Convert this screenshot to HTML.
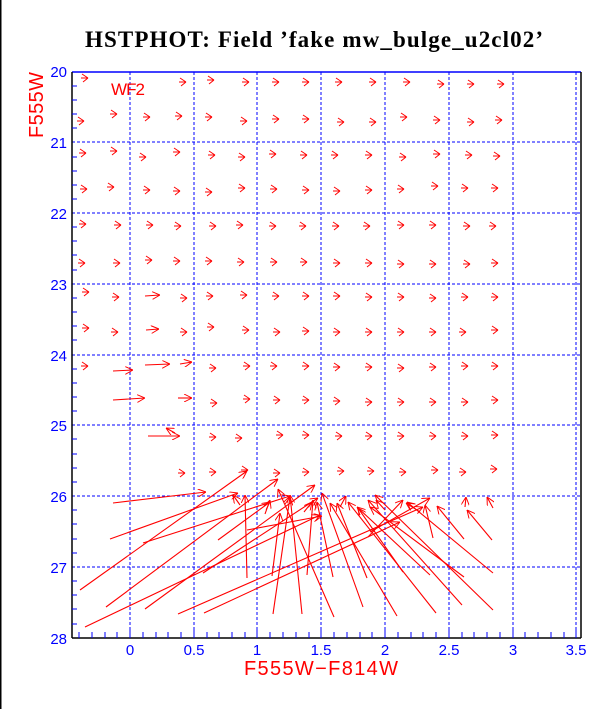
<!DOCTYPE html>
<html><head><meta charset="utf-8"><style>
html,body{margin:0;padding:0;background:#fff}
svg{display:block}
</style></head><body>
<svg width="612" height="709" viewBox="0 0 612 709" xmlns="http://www.w3.org/2000/svg">
<defs>
<g id="a" stroke="#f00" stroke-width="1" fill="none"><path d="M-3,0 H4 M4,0 L-2,-4 M4,0 L-1,4"/></g>
<marker id="h" viewBox="0 0 10 10" refX="10" refY="5" markerWidth="8" markerHeight="8" orient="auto" markerUnits="userSpaceOnUse"><path d="M0,0 L10,5 L0,10" fill="none" stroke="#f00" stroke-width="1.2"/></marker>
</defs>
<rect x="0" y="0" width="612" height="709" fill="#fff"/>
<line x1="0.5" y1="0" x2="0.5" y2="709" stroke="#000" stroke-width="2"/>
<text x="314" y="47" font-family="Liberation Serif, serif" font-weight="bold" font-size="23" text-anchor="middle" textLength="458">HSTPHOT: Field ’fake mw_bulge_u2cl02’</text>
<g stroke="#00f" stroke-width="1" stroke-dasharray="3,2">
<line x1="130" y1="72" x2="130" y2="638"/><line x1="194" y1="72" x2="194" y2="638"/>
<line x1="257" y1="72" x2="257" y2="638"/><line x1="321" y1="72" x2="321" y2="638"/>
<line x1="385" y1="72" x2="385" y2="638"/><line x1="449" y1="72" x2="449" y2="638"/>
<line x1="513" y1="72" x2="513" y2="638"/><line x1="576" y1="72" x2="576" y2="638"/>
<line x1="72" y1="142" x2="581" y2="142"/><line x1="72" y1="213" x2="581" y2="213"/>
<line x1="72" y1="284" x2="581" y2="284"/><line x1="72" y1="355" x2="581" y2="355"/>
<line x1="72" y1="425" x2="581" y2="425"/><line x1="72" y1="496" x2="581" y2="496"/>
<line x1="72" y1="567" x2="581" y2="567"/>
</g>
<line x1="72" y1="72" x2="581" y2="72" stroke="#00f" stroke-width="1.5"/>
<line x1="72" y1="72" x2="72" y2="638" stroke="#000" stroke-width="1.5"/>
<line x1="72" y1="638" x2="581" y2="638" stroke="#000" stroke-width="1.5"/>
<line x1="581" y1="72" x2="581" y2="638" stroke="#000" stroke-width="1.5"/>
<g stroke="#00f" stroke-width="1">
<path d="M72,86h5M72,100h5M72,114h5M72,128h5M72,157h5M72,171h5M72,185h5M72,199h5M72,227h5M72,241h5M72,255h5M72,270h5M72,298h5M72,312h5M72,326h5M72,340h5M72,369h5M72,383h5M72,397h5M72,411h5M72,439h5M72,454h5M72,468h5M72,482h5M72,510h5M72,524h5M72,539h5M72,553h5M72,581h5M72,595h5M72,609h5M72,624h5"/>
<path d="M79,638v-6M92,638v-6M105,638v-6M117,638v-6M143,638v-6M156,638v-6M168,638v-6M181,638v-6M207,638v-6M219,638v-6M232,638v-6M245,638v-6M270,638v-6M283,638v-6M296,638v-6M309,638v-6M334,638v-6M347,638v-6M360,638v-6M372,638v-6M398,638v-6M411,638v-6M423,638v-6M436,638v-6M462,638v-6M474,638v-6M487,638v-6M500,638v-6M525,638v-6M538,638v-6M551,638v-6M564,638v-6"/>
<path d="M130,638v-10M194,638v-10M257,638v-10M321,638v-10M385,638v-10M449,638v-10M513,638v-10M576,638v-10"/>
</g>
<g font-family="Liberation Sans, sans-serif" font-size="15" fill="#00f">
<g text-anchor="end"><text x="67" y="77">20</text><text x="67" y="148">21</text><text x="67" y="219">22</text><text x="67" y="290">23</text><text x="67" y="361">24</text><text x="67" y="431">25</text><text x="67" y="502">26</text><text x="67" y="573">27</text><text x="67" y="644">28</text></g>
<g text-anchor="middle"><text x="130" y="655">0</text><text x="194" y="655">0.5</text><text x="257" y="655">1</text><text x="321" y="655">1.5</text><text x="385" y="655">2</text><text x="449" y="655">2.5</text><text x="513" y="655">3</text><text x="576" y="655">3.5</text></g>
</g>
<text x="321" y="675" font-family="Liberation Sans, sans-serif" font-size="20" fill="#f00" text-anchor="middle" textLength="154">F555W−F814W</text>
<text transform="translate(43,105) rotate(-90)" font-family="Liberation Sans, sans-serif" font-size="20" fill="#f00" text-anchor="middle" textLength="66">F555W</text>
<text x="111" y="95" font-family="Liberation Sans, sans-serif" font-size="17" fill="#f00" textLength="34">WF2</text>
<g>
<use href="#a" x="84" y="78"/><use href="#a" x="182" y="82"/><use href="#a" x="210" y="80"/><use href="#a" x="245" y="82"/><use href="#a" x="275" y="82"/><use href="#a" x="305" y="82"/><use href="#a" x="338" y="82"/><use href="#a" x="372" y="82"/><use href="#a" x="406" y="82"/><use href="#a" x="440" y="84"/><use href="#a" x="470" y="84"/><use href="#a" x="500" y="84"/>
<use href="#a" x="80" y="121"/><use href="#a" x="113" y="114"/><use href="#a" x="146" y="117"/><use href="#a" x="178" y="116"/><use href="#a" x="208" y="117"/><use href="#a" x="243" y="121"/><use href="#a" x="275" y="119"/><use href="#a" x="305" y="119"/><use href="#a" x="340" y="122"/><use href="#a" x="372" y="122"/><use href="#a" x="403" y="117"/><use href="#a" x="436" y="120"/><use href="#a" x="470" y="122"/><use href="#a" x="498" y="120"/>
<use href="#a" x="82" y="153"/><use href="#a" x="113" y="151"/><use href="#a" x="142" y="157"/><use href="#a" x="176" y="152"/><use href="#a" x="211" y="155"/><use href="#a" x="241" y="157"/><use href="#a" x="272" y="154"/><use href="#a" x="303" y="155"/><use href="#a" x="334" y="155"/><use href="#a" x="368" y="155"/><use href="#a" x="402" y="157"/><use href="#a" x="436" y="154"/><use href="#a" x="468" y="155"/><use href="#a" x="496" y="156"/>
<use href="#a" x="83" y="189"/><use href="#a" x="110" y="187"/><use href="#a" x="146" y="190"/><use href="#a" x="176" y="191"/><use href="#a" x="208" y="192"/><use href="#a" x="241" y="188"/><use href="#a" x="273" y="189"/><use href="#a" x="305" y="190"/><use href="#a" x="336" y="191"/><use href="#a" x="368" y="190"/><use href="#a" x="400" y="189"/><use href="#a" x="434" y="186"/><use href="#a" x="464" y="188"/><use href="#a" x="494" y="188"/>
<use href="#a" x="82" y="224"/><use href="#a" x="117" y="225"/><use href="#a" x="149" y="225"/><use href="#a" x="177" y="226"/><use href="#a" x="212" y="226"/><use href="#a" x="239" y="225"/><use href="#a" x="272" y="226"/><use href="#a" x="302" y="226"/><use href="#a" x="335" y="226"/><use href="#a" x="366" y="226"/><use href="#a" x="400" y="225"/><use href="#a" x="432" y="225"/><use href="#a" x="466" y="226"/><use href="#a" x="492" y="226"/>
<use href="#a" x="81" y="263"/><use href="#a" x="116" y="263"/><use href="#a" x="148" y="260"/><use href="#a" x="176" y="261"/><use href="#a" x="208" y="261"/><use href="#a" x="240" y="262"/><use href="#a" x="273" y="262"/><use href="#a" x="303" y="262"/><use href="#a" x="336" y="263"/><use href="#a" x="368" y="263"/><use href="#a" x="400" y="264"/><use href="#a" x="432" y="264"/><use href="#a" x="466" y="264"/><use href="#a" x="494" y="263"/>
<use href="#a" x="85" y="292"/><use href="#a" x="115" y="297"/><use href="#a" x="183" y="298"/><use href="#a" x="209" y="296"/><use href="#a" x="243" y="295"/><use href="#a" x="275" y="296"/><use href="#a" x="305" y="296"/><use href="#a" x="336" y="296"/><use href="#a" x="368" y="297"/><use href="#a" x="400" y="297"/><use href="#a" x="432" y="298"/><use href="#a" x="464" y="297"/><use href="#a" x="494" y="297"/>
<use href="#a" x="85" y="328"/><use href="#a" x="114" y="332"/><use href="#a" x="183" y="332"/><use href="#a" x="210" y="327"/><use href="#a" x="245" y="330"/><use href="#a" x="276" y="332"/><use href="#a" x="305" y="331"/><use href="#a" x="336" y="332"/><use href="#a" x="368" y="332"/><use href="#a" x="400" y="332"/><use href="#a" x="432" y="332"/><use href="#a" x="462" y="332"/><use href="#a" x="494" y="330"/>
<use href="#a" x="84" y="366"/><use href="#a" x="212" y="368"/><use href="#a" x="246" y="366"/><use href="#a" x="273" y="366"/><use href="#a" x="305" y="366"/><use href="#a" x="336" y="367"/><use href="#a" x="368" y="367"/><use href="#a" x="400" y="368"/><use href="#a" x="432" y="367"/><use href="#a" x="464" y="366"/><use href="#a" x="494" y="366"/>
<use href="#a" x="213" y="403"/><use href="#a" x="246" y="399"/><use href="#a" x="276" y="400"/><use href="#a" x="305" y="400"/><use href="#a" x="336" y="401"/><use href="#a" x="368" y="402"/><use href="#a" x="400" y="402"/><use href="#a" x="432" y="402"/><use href="#a" x="464" y="402"/><use href="#a" x="494" y="400"/>
<use href="#a" x="212" y="437"/><use href="#a" x="238" y="438"/><use href="#a" x="279" y="435"/><use href="#a" x="305" y="435"/><use href="#a" x="338" y="436"/><use href="#a" x="368" y="436"/><use href="#a" x="400" y="436"/><use href="#a" x="432" y="436"/><use href="#a" x="464" y="436"/><use href="#a" x="494" y="435"/>
<use href="#a" x="181" y="473"/><use href="#a" x="212" y="472"/><use href="#a" x="244" y="470"/><use href="#a" x="276" y="473"/><use href="#a" x="305" y="472"/><use href="#a" x="340" y="471"/><use href="#a" x="370" y="471"/><use href="#a" x="402" y="472"/><use href="#a" x="434" y="470"/><use href="#a" x="462" y="472"/><use href="#a" x="493" y="469"/>
</g>
<g stroke="#f00" stroke-width="1.1" fill="none" marker-end="url(#h)">
<line x1="145" y1="296" x2="160" y2="295"/><line x1="146" y1="330" x2="159" y2="329"/>
<line x1="113" y1="371" x2="133" y2="370"/><line x1="145" y1="365" x2="170" y2="364"/><line x1="180" y1="364" x2="192" y2="362"/>
<line x1="113" y1="400" x2="145" y2="398"/><line x1="178" y1="398" x2="192" y2="398"/>
<line x1="148" y1="436" x2="180" y2="436"/><line x1="175" y1="433" x2="166" y2="428"/>
<line x1="113" y1="503" x2="206" y2="492"/><line x1="110" y1="539" x2="238" y2="493"/>
<line x1="80" y1="590" x2="247" y2="471"/><line x1="106" y1="607" x2="278" y2="479"/>
<line x1="85" y1="627" x2="320" y2="515"/><line x1="145" y1="609" x2="315" y2="485"/>
<line x1="143" y1="543" x2="290" y2="496"/><line x1="178" y1="614" x2="423" y2="507"/>
<line x1="204" y1="613" x2="400" y2="522"/><line x1="203" y1="573" x2="318" y2="498"/>
<line x1="218" y1="540" x2="270" y2="502"/><line x1="247" y1="578" x2="245" y2="495"/>
<line x1="273" y1="614" x2="290" y2="497"/><line x1="302" y1="614" x2="290" y2="495"/>
<line x1="272" y1="576" x2="280" y2="513"/><line x1="307" y1="575" x2="313" y2="500"/>
<line x1="333" y1="577" x2="317" y2="502"/><line x1="334" y1="617" x2="278" y2="489"/>
<line x1="363" y1="607" x2="322" y2="493"/><line x1="397" y1="616" x2="330" y2="503"/>
<line x1="436" y1="613" x2="348" y2="502"/><line x1="462" y1="605" x2="368" y2="500"/>
<line x1="493" y1="610" x2="375" y2="495"/><line x1="493" y1="573" x2="407" y2="502"/>
<line x1="464" y1="577" x2="370" y2="507"/><line x1="430" y1="575" x2="357" y2="507"/>
<line x1="403" y1="572" x2="358" y2="508"/><line x1="367" y1="578" x2="337" y2="503"/>
<line x1="464" y1="539" x2="437" y2="506"/><line x1="492" y1="540" x2="467" y2="510"/>
<line x1="433" y1="538" x2="425" y2="505"/><line x1="368" y1="537" x2="403" y2="500"/>
<line x1="370" y1="532" x2="430" y2="498"/><line x1="247" y1="530" x2="322" y2="516"/>
<line x1="493" y1="508" x2="487" y2="497"/><line x1="465" y1="507" x2="466" y2="497"/>
<line x1="240" y1="505" x2="233" y2="495"/><line x1="265" y1="514" x2="270" y2="500"/>
<line x1="304" y1="512" x2="312" y2="502"/><line x1="340" y1="507" x2="346" y2="496"/>
<line x1="385" y1="510" x2="376" y2="500"/><line x1="420" y1="512" x2="406" y2="503"/>
</g>
</svg>
</body></html>
